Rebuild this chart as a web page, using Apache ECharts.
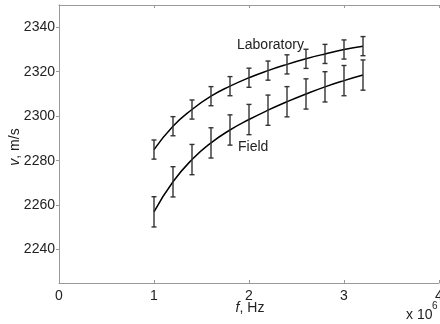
<!DOCTYPE html>
<html>
<head>
<meta charset="utf-8">
<style>
  html, body { margin: 0; padding: 0; background: #fff; }
  #chart { width: 440px; height: 324px; }
</style>
<script src="https://cdn.jsdelivr.net/npm/echarts@6/dist/echarts.min.js"></script>
</head>
<body>
<div id="chart"></div>
<script>
// Frequency (x 10^6 Hz)
const freq = [1.0, 1.2, 1.4, 1.6, 1.8, 2.0, 2.2, 2.4, 2.6, 2.8, 3.0, 3.2];
// Velocity, laboratory measurements (m/s)
const labV = [2285, 2295.5, 2303, 2309, 2313.5, 2317.3, 2320.5, 2323.3, 2325.8, 2328, 2330, 2331.5];
const labErr = [4.3, 4.3, 4.3, 4.3, 4.3, 4.3, 4.3, 4.3, 4.3, 4.3, 4.3, 4.3];
// Velocity, field measurements (m/s)
const fieldV = [2257, 2270.5, 2280.5, 2288, 2293.8, 2298.5, 2302.7, 2306.5, 2310, 2313.2, 2316, 2318.5];
const fieldErr = [6.8, 6.8, 6.8, 6.8, 6.8, 6.8, 6.8, 6.8, 6.8, 6.8, 6.8, 6.8];
// Axis ticks
const xTicks = [0, 1, 2, 3, 4];
const yTicks = [2240, 2260, 2280, 2300, 2320, 2340];

const FONT = 'Liberation Sans, Arial, sans-serif';
const AXIS_COLOR = '#999';
const TEXT_COLOR = '#222';

const chart = echarts.init(document.getElementById('chart'), null, { renderer: 'canvas' });

function pairs(xs, ys) { return xs.map((x, i) => [x, ys[i]]); }
function bars(xs, ys, es) { return xs.map((x, i) => [x, ys[i] - es[i], ys[i] + es[i]]); }

function errorBarItem(params, api) {
  const x = api.value(0);
  const lo = api.coord([x, api.value(1)]);
  const hi = api.coord([x, api.value(2)]);
  const w = 2.5;
  const style = { stroke: '#333', lineWidth: 1.4 };
  return {
    type: 'group',
    children: [
      { type: 'line', shape: { x1: lo[0], y1: lo[1], x2: hi[0], y2: hi[1] }, style },
      { type: 'line', shape: { x1: lo[0] - w, y1: lo[1], x2: lo[0] + w, y2: lo[1] }, style },
      { type: 'line', shape: { x1: hi[0] - w, y1: hi[1], x2: hi[0] + w, y2: hi[1] }, style }
    ]
  };
}

const xBase = { type: 'value', min: xTicks[0], max: xTicks[xTicks.length - 1], interval: 1 };
const yBase = { type: 'value', min: 2225, max: 2350 };

const option = {
  animation: false,
  backgroundColor: '#fff',
  grid: { left: 59, top: 5, right: 1, bottom: 41, containLabel: false, outerBoundsMode: 'none' },
  xAxis: [
    Object.assign({}, xBase, {
      position: 'bottom',
      axisLine: { show: true, lineStyle: { color: AXIS_COLOR, width: 1 } },
      axisTick: { show: true, inside: true, length: 3, lineStyle: { color: AXIS_COLOR } },
      axisLabel: { color: TEXT_COLOR, fontFamily: FONT, fontSize: 14, margin: 6, formatter: v => String(v) },
      splitLine: { show: false }
    }),
    Object.assign({}, xBase, {
      position: 'top',
      axisLine: { show: true, lineStyle: { color: AXIS_COLOR, width: 1 } },
      axisTick: { show: true, inside: true, length: 3, lineStyle: { color: AXIS_COLOR } },
      axisLabel: { show: false },
      splitLine: { show: false }
    })
  ],
  yAxis: [
    Object.assign({}, yBase, {
      position: 'left',
      axisLine: { show: true, lineStyle: { color: AXIS_COLOR, width: 1 } },
      axisTick: { show: true, inside: false, length: 3, customValues: yTicks, lineStyle: { color: AXIS_COLOR } },
      axisLabel: { color: TEXT_COLOR, fontFamily: FONT, fontSize: 14, margin: 4, customValues: yTicks, formatter: v => String(v) },
      splitLine: { show: false }
    }),
    Object.assign({}, yBase, {
      position: 'right',
      axisLine: { show: true, lineStyle: { color: AXIS_COLOR, width: 1 } },
      axisTick: { show: true, inside: true, length: 3, customValues: yTicks, lineStyle: { color: AXIS_COLOR } },
      axisLabel: { show: false },
      splitLine: { show: false }
    })
  ],
  series: [
    {
      name: 'Laboratory', type: 'line', data: pairs(freq, labV),
      smooth: 0.5, showSymbol: false,
      lineStyle: { color: '#000', width: 1.5 }, z: 3
    },
    {
      name: 'Field', type: 'line', data: pairs(freq, fieldV),
      smooth: 0.5, showSymbol: false,
      lineStyle: { color: '#000', width: 1.5 }, z: 3
    },
    { name: 'Laboratory error', type: 'custom', data: bars(freq, labV, labErr), renderItem: errorBarItem, z: 4 },
    { name: 'Field error', type: 'custom', data: bars(freq, fieldV, fieldErr), renderItem: errorBarItem, z: 4 }
  ],
  graphic: [
    { type: 'text', left: 237, top: 38, style: { text: 'Laboratory', font: '14px ' + FONT, fill: TEXT_COLOR } },
    { type: 'text', left: 238, top: 140, style: { text: 'Field', font: '14px ' + FONT, fill: TEXT_COLOR } },
    {
      type: 'text', x: 250, y: 308,
      style: {
        text: '{i|f}, Hz', align: 'center', verticalAlign: 'middle',
        font: '14px ' + FONT, fill: TEXT_COLOR,
        rich: { i: { fontStyle: 'italic', fontFamily: FONT, fontSize: 14, fill: TEXT_COLOR } }
      }
    },
    {
      type: 'text', x: 15, y: 147, rotation: Math.PI / 2,
      style: {
        text: '{i|v}, m/s', align: 'center', verticalAlign: 'middle',
        font: '14px ' + FONT, fill: TEXT_COLOR,
        rich: { i: { fontStyle: 'italic', fontFamily: FONT, fontSize: 14, fill: TEXT_COLOR } }
      }
    },
    { type: 'text', left: 406, top: 308, style: { text: 'x 10', font: '14px ' + FONT, fill: TEXT_COLOR } },
    { type: 'text', left: 432, top: 301, style: { text: '6', font: '10px ' + FONT, fill: TEXT_COLOR } }
  ]
};

chart.setOption(option);
</script>
</body>
</html>
